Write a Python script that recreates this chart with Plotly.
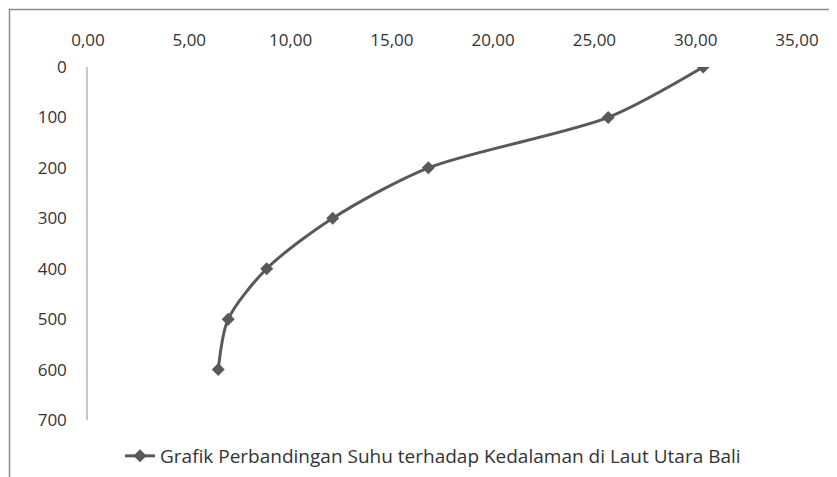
import plotly.graph_objects as go

depth = [0, 100, 200, 300, 400, 500, 600]
suhu = [30.37, 25.68, 16.80, 12.08, 8.82, 6.92, 6.43]
series_name = "Grafik Perbandingan Suhu terhadap Kedalaman di Laut Utara Bali"

# page body has an 8px margin, so the figure starts at (8, 8) on screen
OFF = 8
W, H = 837 - OFF, 477 - OFF
L, T = 88 - OFF, 67 - OFF
R = W - (797 - OFF)
B = H - (420 - OFF)
pw, ph = W - L - R, H - T - B

fig = go.Figure()
fig.add_trace(go.Scatter(
    x=suhu, y=depth, mode="lines+markers", name=series_name,
    line=dict(color="#595959", width=3, shape="spline", smoothing=0.8),
    marker=dict(symbol="diamond", size=10, color="#595959"),
))

def px_x(p):  # screen pixel -> paper
    return (p - OFF - L) / pw

def px_y(p):
    return 1 - (p - OFF - T) / ph

# outer chart frame (top and left edges visible)
fig.add_shape(type="line", xref="paper", yref="paper",
              x0=px_x(9), x1=px_x(837), y0=px_y(9.5), y1=px_y(9.5),
              line=dict(color="#8c8c8c", width=1.5))
fig.add_shape(type="line", xref="paper", yref="paper",
              x0=px_x(9.5), x1=px_x(9.5), y0=px_y(9), y1=px_y(477),
              line=dict(color="#8c8c8c", width=1.5))

fig.update_layout(
    width=W, height=H,
    margin=dict(l=L, r=R, t=T, b=B, autoexpand=False),
    paper_bgcolor="white", plot_bgcolor="white",
    separators=",.",
    font=dict(family="Open Sans, sans-serif", size=17, color="#333333"),
    showlegend=True,
    legend=dict(orientation="h", x=px_x(120), xanchor="left",
                y=px_y(456), yanchor="middle",
                font=dict(size=19, color="#333333"),
                bgcolor="rgba(0,0,0,0)"),
    xaxis=dict(side="top", range=[0, 35], dtick=5, tick0=0,
               tickformat=".2f", showgrid=False, zeroline=False,
               showline=False, ticks="", ticklabelstandoff=17,
               automargin=False),
    yaxis=dict(range=[700, 0], dtick=100, tick0=0, showgrid=False,
               zeroline=False, showline=True, linecolor="#c8c8c8",
               linewidth=1.5, ticks="", ticklabelstandoff=16,
               automargin=False),
)

fig.write_html("out.html")
